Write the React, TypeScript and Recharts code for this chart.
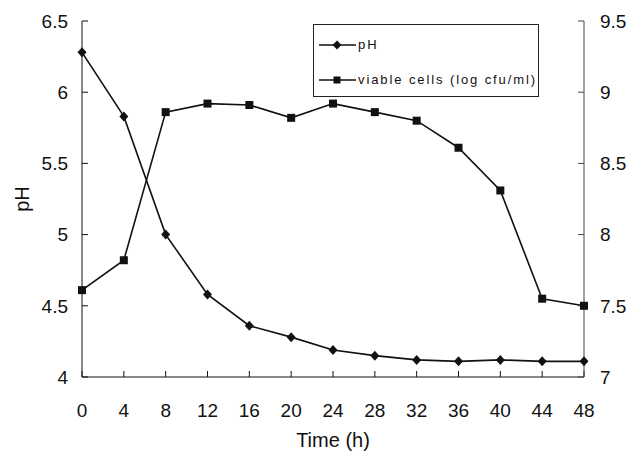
import { LineChart, Line, XAxis, YAxis, Legend } from "recharts";

const hours = [0, 4, 8, 12, 16, 20, 24, 28, 32, 36, 40, 44, 48];
const phValues = [6.28, 5.83, 5.0, 4.58, 4.36, 4.28, 4.19, 4.15, 4.12, 4.11, 4.12, 4.11, 4.11];
const viableCells = [7.61, 7.82, 8.86, 8.92, 8.91, 8.82, 8.92, 8.86, 8.8, 8.61, 8.31, 7.55, 7.5];
const phTicks = [4, 4.5, 5, 5.5, 6, 6.5];
const cellTicks = [7, 7.5, 8, 8.5, 9, 9.5];
const seriesNames = ["pH", "viable cells (log cfu/ml)"];

const data = hours.map((h, i) => ({ hour: h, ph: phValues[i], cells: viableCells[i] }));

const FONT = '"Liberation Sans", Arial, sans-serif';
const INK = "#111";

const tickStyle = { fill: INK, fontSize: 19, fontFamily: FONT };

function Diamond(props: any) {
  const { cx, cy, index } = props;
  if (cx == null || cy == null) return null;
  return (
    <path
      key={`diamond-${index}`}
      d={`M${cx},${cy - 5} L${cx + 4.5},${cy} L${cx},${cy + 5} L${cx - 4.5},${cy} Z`}
      fill={INK}
    />
  );
}

function Square(props: any) {
  const { cx, cy, index } = props;
  if (cx == null || cy == null) return null;
  return <rect key={`square-${index}`} x={cx - 4} y={cy - 4} width={8} height={8} fill={INK} />;
}

function PhLabel(props: any) {
  const { viewBox } = props;
  const x = viewBox.x + 28.5;
  const y = viewBox.y + viewBox.height / 2;
  return (
    <text
      x={x}
      y={y}
      transform={`rotate(-90 ${x} ${y})`}
      textAnchor="middle"
      fill={INK}
      fontSize={20}
      fontFamily={FONT}
    >
      pH
    </text>
  );
}

// legend box drawn by hand, rows at fixed offsets inside the frame
function LegendBox() {
  const row = (name: string, marker: "diamond" | "square", centerY: number) => (
    <div
      style={{
        position: "absolute",
        left: 0,
        top: centerY - 10,
        height: 20,
        display: "flex",
        alignItems: "center",
      }}
    >
      <svg width={44} height={12} style={{ flex: "none", display: "block" }}>
        <line x1={5} y1={6} x2={42} y2={6} stroke={INK} strokeWidth={1.5} />
        {marker === "diamond" ? (
          <path d="M23,1.5 L27.5,6 L23,10.5 L18.5,6 Z" fill={INK} />
        ) : (
          <rect x={19.5} y={2.5} width={7} height={7} fill={INK} />
        )}
      </svg>
      <span style={{ fontSize: 13, lineHeight: "20px", letterSpacing: 1.9, color: INK, whiteSpace: "nowrap" }}>
        {name}
      </span>
    </div>
  );
  return (
    <div
      style={{
        position: "relative",
        boxSizing: "border-box",
        width: 226,
        height: 73,
        border: "1px solid #222",
        background: "#fff",
        fontFamily: FONT,
      }}
    >
      {row(seriesNames[0], "diamond", 20)}
      {row(seriesNames[1], "square", 55)}
    </div>
  );
}

export default function App() {
  return (
    <div style={{ position: "absolute", left: 0, top: 0, width: 632, height: 451, background: "#fff" }}>
      <LineChart width={632} height={451} data={data} margin={{ top: 21, right: 0, bottom: 0, left: 0 }}>
        <XAxis
          dataKey="hour"
          type="number"
          domain={[0, 48]}
          ticks={hours}
          interval={0}
          height={74}
          stroke={INK}
          tickSize={-6}
          tickMargin={33}
          tick={tickStyle}
          label={{
            value: "Time (h)",
            position: "insideBottom",
            offset: 4,
            fill: INK,
            fontSize: 20,
            fontFamily: FONT,
          }}
        />
        <YAxis
          yAxisId="left"
          domain={[4, 6.5]}
          ticks={phTicks}
          interval={0}
          width={82}
          stroke={INK}
          tickSize={-6}
          tickMargin={20}
          tick={tickStyle}
          label={<PhLabel />}
        />
        <YAxis
          yAxisId="right"
          orientation="right"
          domain={[7, 9.5]}
          ticks={cellTicks}
          interval={0}
          width={48}
          stroke="#444"
          tickSize={-6}
          tickMargin={22}
          tick={{ ...tickStyle, textAnchor: "start" }}
        />
        <Legend
          layout="horizontal"
          verticalAlign="middle"
          align="center"
          wrapperStyle={{ position: "absolute", left: 313, top: 24, width: 226, height: 73 }}
          content={() => <LegendBox />}
        />
        <Line
          yAxisId="left"
          dataKey="ph"
          name={seriesNames[0]}
          stroke={INK}
          strokeWidth={1.6}
          dot={<Diamond />}
          activeDot={false}
          isAnimationActive={false}
        />
        <Line
          yAxisId="right"
          dataKey="cells"
          name={seriesNames[1]}
          stroke={INK}
          strokeWidth={1.6}
          dot={<Square />}
          activeDot={false}
          isAnimationActive={false}
        />
      </LineChart>
    </div>
  );
}
